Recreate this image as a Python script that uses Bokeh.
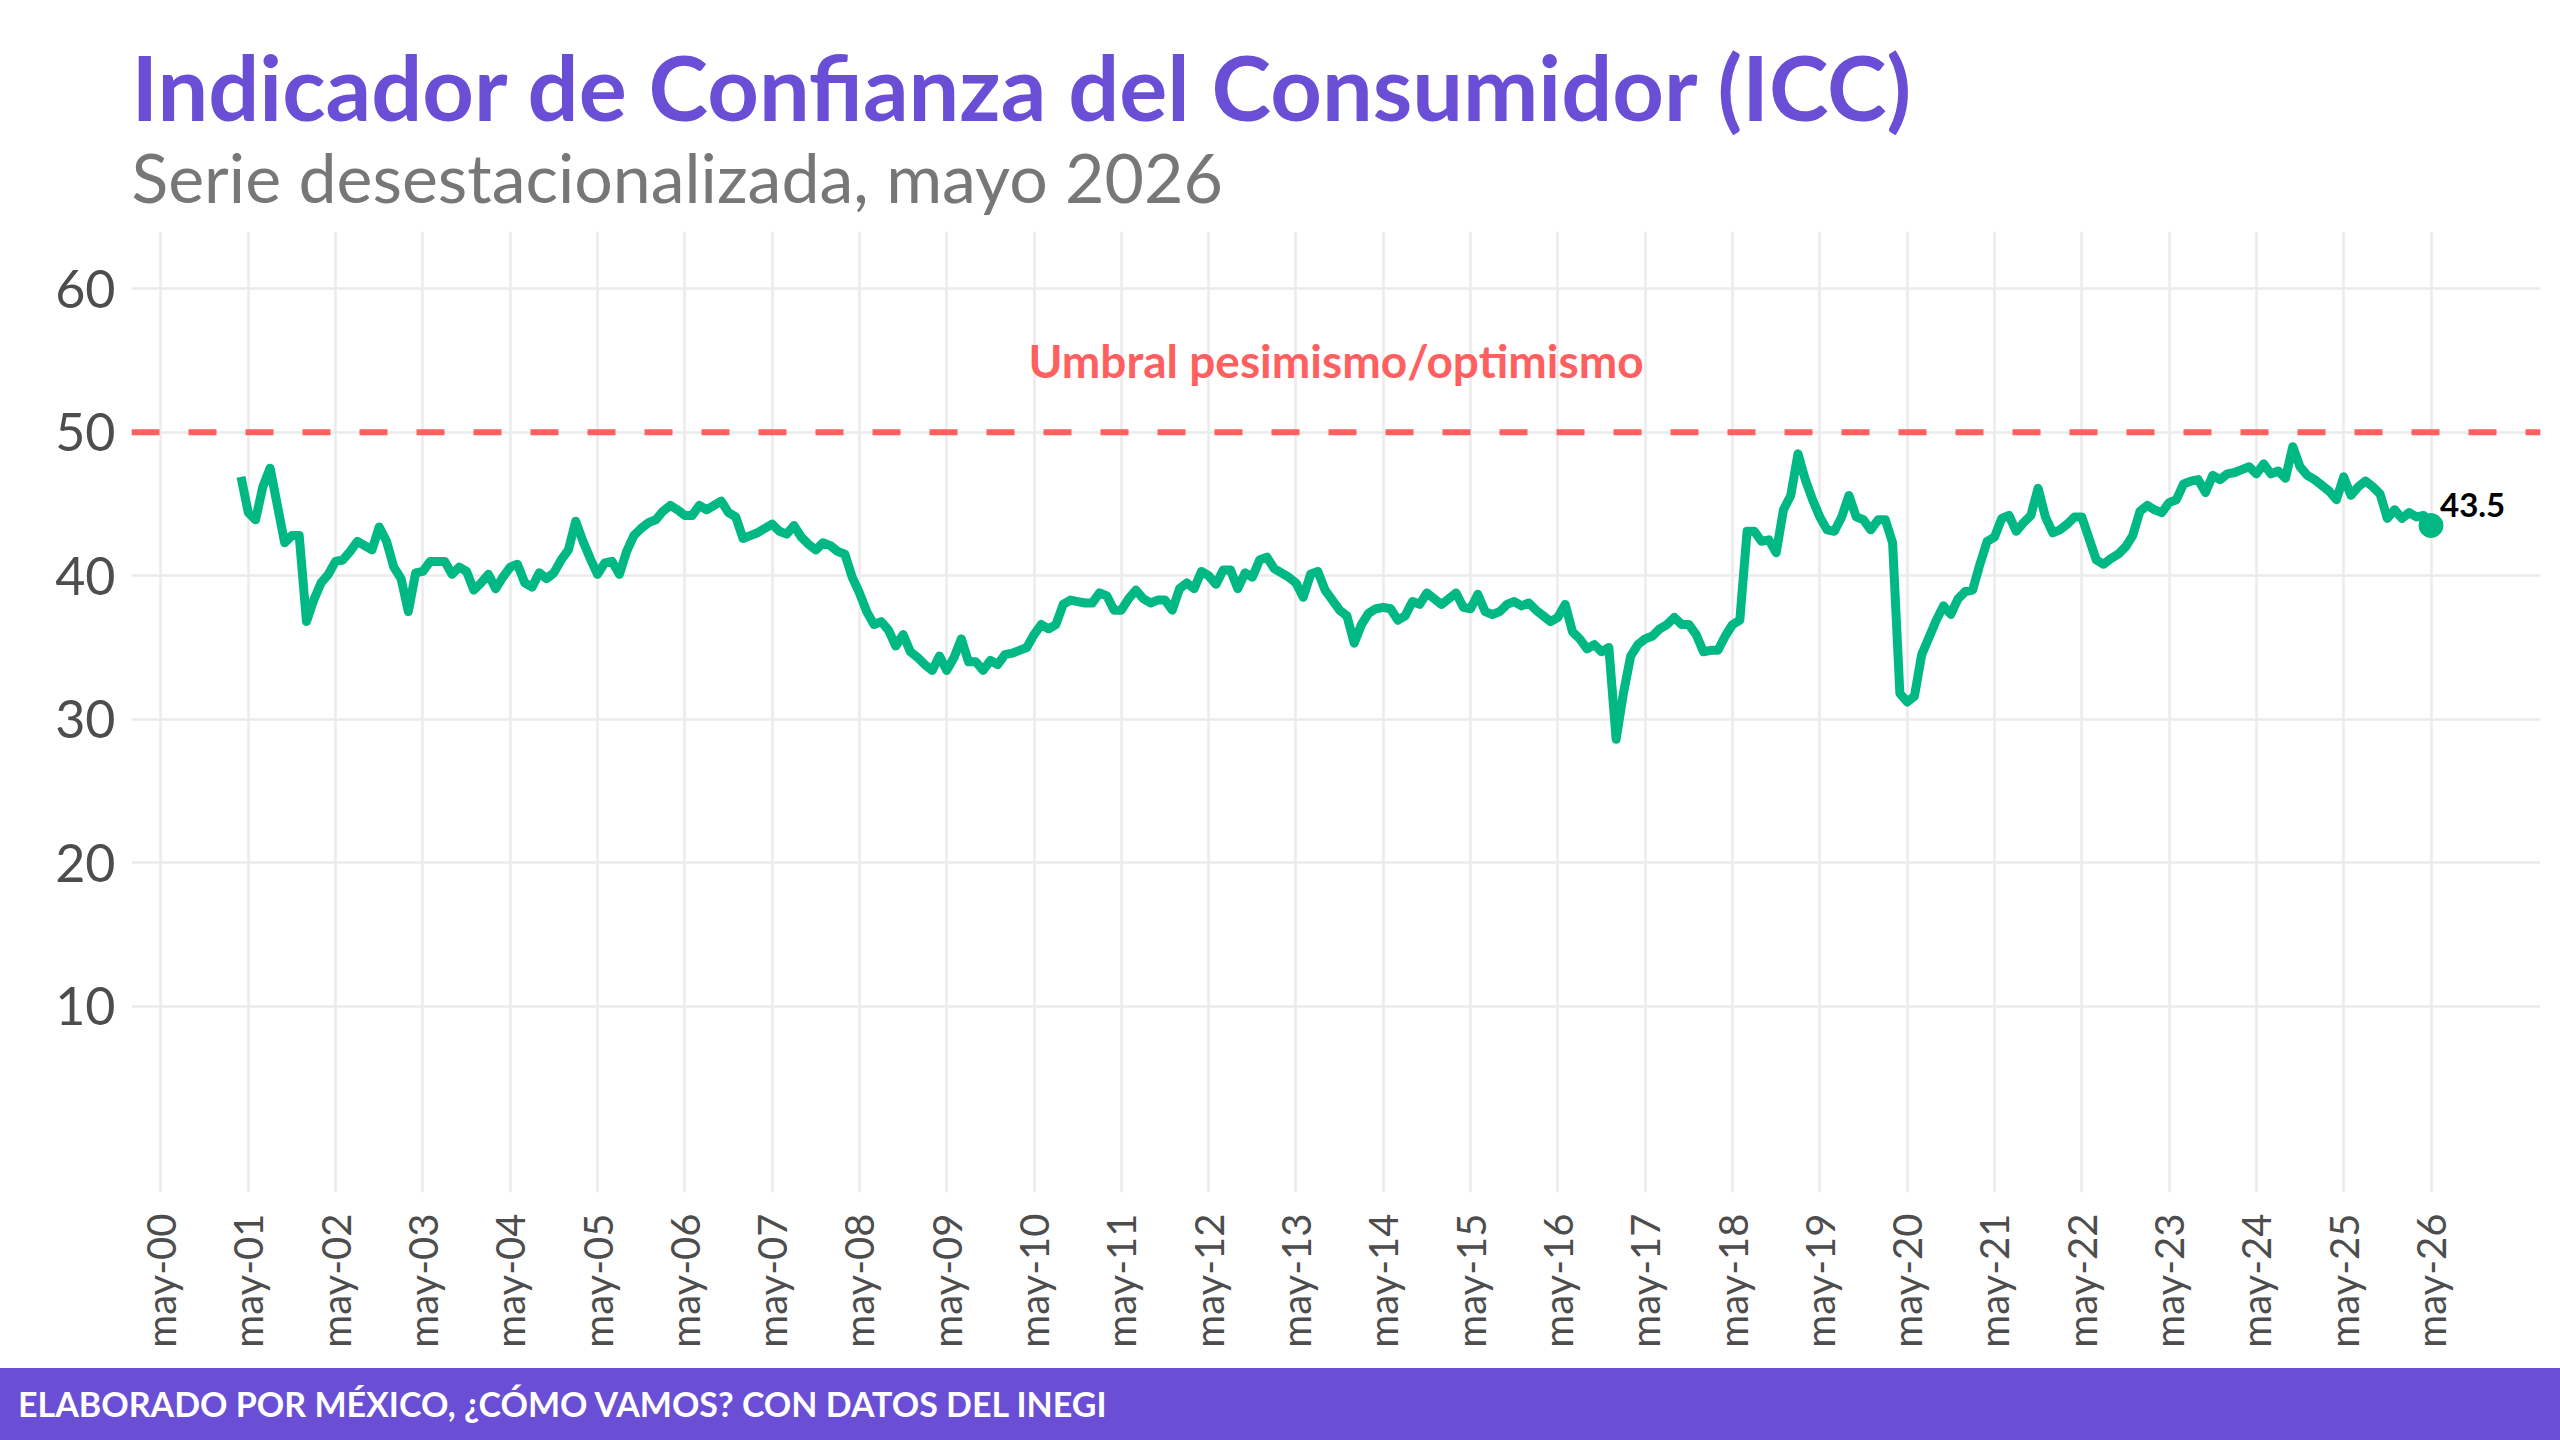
import math
from bokeh.plotting import figure
from bokeh.models import ColumnDataSource, FixedTicker, Span, Label, Title, Range1d, Div
from bokeh.layouts import column
from bokeh.embed import file_html
from bokeh.resources import INLINE

# ---------------- data: ICC, serie desestacionalizada (monthly) ----------------
first_year, first_month = 2001, 4          # series starts April 2001
icc_2001 = [46.9, 44.4, 43.9, 46.2, 47.5, 44.9, 42.3, 42.8, 42.8]
icc_2002 = [36.8, 38.3, 39.5, 40.1, 41.0, 41.1, 41.7, 42.4, 42.1, 41.8, 43.4, 42.4]
icc_2003 = [40.6, 39.8, 37.5, 40.2, 40.3, 41.0, 41.0, 41.0, 40.1, 40.6, 40.3, 39.0]
icc_2004 = [39.5, 40.1, 39.1, 39.9, 40.6, 40.8, 39.5, 39.2, 40.2, 39.8, 40.2, 41.1]
icc_2005 = [41.8, 43.8, 42.4, 41.2, 40.1, 40.9, 41.0, 40.1, 41.7, 42.8, 43.3, 43.7]
icc_2006 = [43.9, 44.5, 44.9, 44.6, 44.2, 44.2, 44.9, 44.6, 44.9, 45.2, 44.4, 44.1]
icc_2007 = [42.6, 42.8, 43.0, 43.3, 43.6, 43.1, 42.9, 43.5, 42.7, 42.2, 41.8, 42.3]
icc_2008 = [42.1, 41.7, 41.5, 39.9, 38.8, 37.5, 36.6, 36.8, 36.2, 35.1, 35.9, 34.7]
icc_2009 = [34.3, 33.8, 33.4, 34.4, 33.4, 34.3, 35.6, 34.0, 34.0, 33.4, 34.1, 33.8]
icc_2010 = [34.5, 34.6, 34.8, 35.0, 35.9, 36.6, 36.3, 36.6, 38.0, 38.3, 38.2, 38.1]
icc_2011 = [38.1, 38.8, 38.6, 37.6, 37.6, 38.4, 39.0, 38.4, 38.1, 38.3, 38.3, 37.6]
icc_2012 = [39.1, 39.5, 39.1, 40.3, 40.0, 39.4, 40.4, 40.4, 39.1, 40.2, 39.9, 41.1]
icc_2013 = [41.3, 40.5, 40.2, 39.9, 39.5, 38.5, 40.1, 40.3, 39.0, 38.3, 37.6, 37.2]
icc_2014 = [35.3, 36.6, 37.4, 37.7, 37.8, 37.7, 36.9, 37.2, 38.2, 38.0, 38.8, 38.4]
icc_2015 = [38.0, 38.4, 38.8, 37.8, 37.7, 38.7, 37.5, 37.3, 37.5, 38.0, 38.2, 37.9]
icc_2016 = [38.1, 37.6, 37.2, 36.8, 37.1, 38.0, 36.1, 35.6, 34.9, 35.2, 34.7, 35.0]
icc_2017 = [28.6, 31.8, 34.4, 35.2, 35.6, 35.8, 36.3, 36.6, 37.1, 36.6, 36.6, 35.9]
icc_2018 = [34.7, 34.8, 34.8, 35.8, 36.6, 36.9, 43.1, 43.1, 42.4, 42.5, 41.6, 44.6]
icc_2019 = [45.6, 48.5, 46.7, 45.3, 44.1, 43.2, 43.1, 44.1, 45.6, 44.1, 43.9, 43.2]
icc_2020 = [43.9, 43.9, 42.3, 31.8, 31.2, 31.6, 34.5, 35.7, 36.9, 37.9, 37.3, 38.4]
icc_2021 = [38.9, 39.0, 40.8, 42.4, 42.7, 44.0, 44.2, 43.1, 43.7, 44.2, 46.1, 44.1]
icc_2022 = [43.0, 43.2, 43.6, 44.1, 44.1, 42.6, 41.1, 40.8, 41.2, 41.5, 42.0, 42.8]
icc_2023 = [44.5, 44.9, 44.6, 44.4, 45.1, 45.3, 46.4, 46.6, 46.7, 45.8, 47.0, 46.7]
icc_2024 = [47.1, 47.2, 47.4, 47.6, 47.1, 47.8, 47.1, 47.3, 46.8, 49.0, 47.6, 47.0]
icc_2025 = [46.7, 46.3, 45.9, 45.3, 46.9, 45.6, 46.2, 46.6, 46.2, 45.7, 44.0, 44.6]
icc_2026 = [44.0, 44.4, 44.1, 44.2, 43.5]

years_data = [
    (2001, icc_2001), (2002, icc_2002), (2003, icc_2003), (2004, icc_2004),
    (2005, icc_2005), (2006, icc_2006), (2007, icc_2007), (2008, icc_2008),
    (2009, icc_2009), (2010, icc_2010), (2011, icc_2011), (2012, icc_2012),
    (2013, icc_2013), (2014, icc_2014), (2015, icc_2015), (2016, icc_2016),
    (2017, icc_2017), (2018, icc_2018), (2019, icc_2019), (2020, icc_2020),
    (2021, icc_2021), (2022, icc_2022), (2023, icc_2023), (2024, icc_2024),
    (2025, icc_2025), (2026, icc_2026),
]

tick_years = list(range(2000, 2027))
tick_labels = ["may-%02d" % (y % 100) for y in tick_years]
y_ticks = [10, 20, 30, 40, 50, 60]
threshold = 50
threshold_label = "Umbral pesimismo/optimismo"
threshold_label_y = 55

title_text = "Indicador de Confianza del Consumidor (ICC)"
subtitle_text = "Serie desestacionalizada, mayo 2026"
footer_text = "ELABORADO POR MÉXICO, ¿CÓMO VAMOS? CON DATOS DEL INEGI"

# ---------------- build series (month index since Jan 2000) ----------------
def month_index(year, month):
    return (year - 2000) * 12 + (month - 1)

xs, ys = [], []
for year, vals in years_data:
    start = first_month if year == first_year else 1
    for i, v in enumerate(vals):
        xs.append(month_index(year, start + i))
        ys.append(v)

source = ColumnDataSource(dict(x=xs, y=ys))
tick_pos = [month_index(y, 5) for y in tick_years]

# ggplot-like 5% expansion of the x range
span_x = xs[-1] - xs[0]
x_lo, x_hi = xs[0] - 0.05 * span_x, xs[-1] + 0.05 * span_x

PURPLE = "#6A4FD6"
GREEN = "#00B884"
RED = "#FF5F5F"
GREY_TXT = "#4D4D4D"
GRID = "#EBEBEB"
FONT = "Lato"

p = figure(width=2560, height=1368, x_range=Range1d(x_lo, x_hi), y_range=Range1d(-3, 64),
           output_backend="svg", toolbar_location=None,
           min_border_left=131, min_border_right=20, min_border_top=231, min_border_bottom=176)
p.background_fill_color = "white"
p.border_fill_color = "white"
p.outline_line_color = None

# axes
p.xaxis.ticker = FixedTicker(ticks=tick_pos)
p.xaxis.major_label_overrides = {t: l for t, l in zip(tick_pos, tick_labels)}
p.xaxis.major_label_orientation = math.pi / 2
p.yaxis.ticker = FixedTicker(ticks=y_ticks)
for ax in (p.xaxis, p.yaxis):
    ax.axis_line_color = None
    ax.major_tick_line_color = None
    ax.minor_tick_line_color = None
    ax.major_label_text_color = GREY_TXT
    ax.major_label_text_font = FONT
p.xaxis.major_label_text_font_size = "40px"
p.xaxis.major_label_standoff = 15
p.yaxis.major_label_text_font_size = "52px"
p.yaxis.major_label_standoff = 10

p.xgrid.ticker = FixedTicker(ticks=tick_pos)
p.ygrid.ticker = FixedTicker(ticks=y_ticks)
p.grid.grid_line_color = GRID
p.grid.grid_line_width = 2.5

# threshold line and label
p.add_layout(Span(location=threshold, dimension="width", line_color=RED,
                  line_width=6, line_dash="28 29"))
p.add_layout(Label(x=(xs[0] + xs[-1]) / 2, y=threshold_label_y, text=threshold_label,
                   text_align="center", text_baseline="middle", text_color=RED,
                   text_font=FONT, text_font_style="bold", text_font_size="46px"))

# series
p.line("x", "y", source=source, line_color=GREEN, line_width=9, line_join="round")
p.scatter(x=[xs[-1]], y=[ys[-1]], size=24, color=GREEN)
p.add_layout(Label(x=xs[-1], y=ys[-1], text=f"{ys[-1]:.1f}", x_offset=9, y_offset=21,
                   text_align="left", text_baseline="middle", text_color="black",
                   text_font=FONT, text_font_style="bold", text_font_size="33px"))

# titles (first added sits closest to the frame)
p.add_layout(Title(text=subtitle_text, align="left", offset=0, standoff=29,
                   text_font=FONT, text_font_style="normal", text_font_size="68px",
                   text_color="#777777"), "above")
p.add_layout(Title(text=title_text, align="left", offset=0, standoff=-40,
                   text_font=FONT, text_font_style="bold", text_font_size="90px",
                   text_color=PURPLE), "above")

# footer band
footer = Div(
    text=f'<div style="padding-left:18px;line-height:72px;height:72px;white-space:nowrap;'
         f'font-family:{FONT};font-weight:bold;font-size:34px;color:white;">{footer_text}</div>',
    width=2560, height=72,
    styles={"background-color": PURPLE, "margin": "0", "padding": "0"},
)

layout = column(p, footer, spacing=0)
open("out.html", "w").write(file_html(layout, INLINE))
